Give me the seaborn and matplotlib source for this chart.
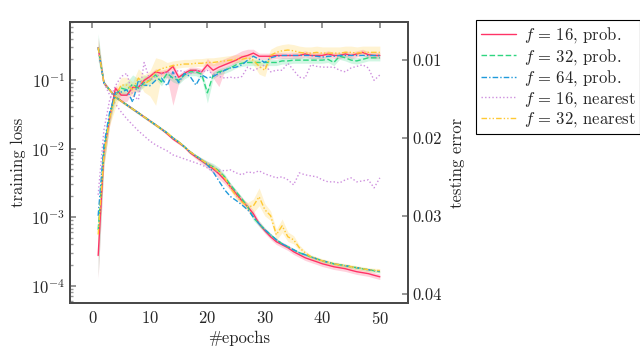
import pandas as pd
import seaborn as sns  # lines are drawn with seaborn
import matplotlib.pyplot as plt
from matplotlib.ticker import FixedLocator, FormatStrFormatter, LogLocator, NullFormatter

# epochs on the x axis
epochs = list(range(1, 51))

# legend labels, one per run
runs = [r'$f\,=\,16$, prob.', r'$f\,=\,32$, prob.', r'$f\,=\,64$, prob.',
        r'$f\,=\,16$, nearest', r'$f\,=\,32$, nearest']

# training loss (left, log axis)
train_f16_prob = [0.297, 0.0904, 0.0715, 0.0565, 0.0494, 0.0432, 0.0378, 0.0331, 0.0289, 0.0253,
                  0.0221, 0.0193, 0.0164, 0.0138, 0.0121, 0.0106, 0.00865, 0.00756, 0.00661, 0.00578,
                  0.00506, 0.00428, 0.00350, 0.00277, 0.00219, 0.00173, 0.00142, 0.00112, 0.000800, 0.000633,
                  0.000517, 0.000438, 0.000396, 0.000358, 0.000313, 0.000283, 0.000256, 0.000239, 0.000224, 0.000209,
                  0.000199, 0.000189, 0.000183, 0.000177, 0.000168, 0.000160, 0.000155, 0.000150, 0.000142, 0.000135]
train_f32_prob = [0.297, 0.0904, 0.0715, 0.0565, 0.0494, 0.0432, 0.0378, 0.0331, 0.0289, 0.0253,
                  0.0221, 0.0193, 0.0169, 0.0143, 0.0125, 0.0106, 0.00894, 0.00782, 0.00684, 0.00598,
                  0.00541, 0.00473, 0.00387, 0.00296, 0.00234, 0.00185, 0.00142, 0.000978, 0.000800, 0.000655,
                  0.000553, 0.000468, 0.000409, 0.000370, 0.000334, 0.000303, 0.000283, 0.000264, 0.000247, 0.000231,
                  0.000220, 0.000209, 0.000202, 0.000196, 0.000189, 0.000183, 0.000177, 0.000171, 0.000166, 0.000160]
train_f64_prob = [0.297, 0.0904, 0.0715, 0.0565, 0.0494, 0.0432, 0.0378, 0.0331, 0.0289, 0.0253,
                  0.0221, 0.0193, 0.0169, 0.0143, 0.0125, 0.0106, 0.00894, 0.00782, 0.00684, 0.00578,
                  0.00457, 0.00338, 0.00250, 0.00200, 0.00175, 0.00151, 0.00128, 0.00101, 0.000800, 0.000655,
                  0.000553, 0.000468, 0.000409, 0.000370, 0.000334, 0.000303, 0.000283, 0.000264, 0.000247, 0.000231,
                  0.000220, 0.000209, 0.000202, 0.000196, 0.000189, 0.000183, 0.000177, 0.000171, 0.000166, 0.000162]
train_f16_near = [0.297, 0.0904, 0.0605, 0.0447, 0.0342, 0.0270, 0.0221, 0.0181, 0.0153, 0.0129,
                  0.0113, 0.0102, 0.00925, 0.00809, 0.00756, 0.00707, 0.00661, 0.00618, 0.00578, 0.00523,
                  0.00457, 0.00489, 0.00473, 0.00489, 0.00442, 0.00414, 0.00457, 0.00442, 0.00473, 0.00428,
                  0.00400, 0.00374, 0.00387, 0.00350, 0.00296, 0.00442, 0.00414, 0.00400, 0.00387, 0.00350,
                  0.00327, 0.00327, 0.00316, 0.00350, 0.00374, 0.00327, 0.00338, 0.00350, 0.00267, 0.00374]
train_f32_near = [0.297, 0.0904, 0.0715, 0.0565, 0.0494, 0.0432, 0.0378, 0.0331, 0.0289, 0.0253,
                  0.0221, 0.0193, 0.0169, 0.0143, 0.0125, 0.0106, 0.00894, 0.00782, 0.00684, 0.00598,
                  0.00530, 0.00457, 0.00374, 0.00267, 0.00205, 0.00167, 0.00142, 0.00146, 0.00198, 0.00128,
                  0.00105, 0.000553, 0.000748, 0.000517, 0.000468, 0.000358, 0.000303, 0.000264, 0.000247, 0.000231,
                  0.000220, 0.000209, 0.000202, 0.000196, 0.000189, 0.000183, 0.000177, 0.000171, 0.000168, 0.000166]

# testing error (right axis, reversed)
test_f16_prob = [0.0351, 0.0218, 0.0174, 0.0136, 0.0145, 0.0145, 0.0135, 0.0135, 0.0126, 0.0121,
                 0.0115, 0.0117, 0.0115, 0.0108, 0.0122, 0.0117, 0.0113, 0.0113, 0.0115, 0.0106,
                 0.0113, 0.0109, 0.0106, 0.0103, 0.0100, 0.0096, 0.0094, 0.0091, 0.0095, 0.0095,
                 0.0095, 0.0094, 0.0094, 0.0094, 0.0094, 0.0094, 0.0092, 0.0094, 0.0094, 0.0094,
                 0.0092, 0.0094, 0.0094, 0.0092, 0.0094, 0.0092, 0.0090, 0.0093, 0.0094, 0.0094]
test_f32_prob = [0.0318, 0.0215, 0.0171, 0.0145, 0.0136, 0.0138, 0.0131, 0.0136, 0.0129, 0.0126,
                 0.0119, 0.0128, 0.0117, 0.0123, 0.0126, 0.0119, 0.0115, 0.0115, 0.0118, 0.0142,
                 0.0119, 0.0115, 0.0113, 0.0110, 0.0106, 0.0104, 0.0103, 0.0103, 0.0103, 0.0103,
                 0.0103, 0.0103, 0.0101, 0.0101, 0.0100, 0.0100, 0.0100, 0.0100, 0.0100, 0.0100,
                 0.0099, 0.0103, 0.0095, 0.0097, 0.0100, 0.0101, 0.0099, 0.0097, 0.0097, 0.0097]
test_f64_prob = [0.0300, 0.0209, 0.0167, 0.0142, 0.0141, 0.0138, 0.0154, 0.0126, 0.0132, 0.0133,
                 0.0126, 0.0123, 0.0133, 0.0115, 0.0129, 0.0117, 0.0121, 0.0132, 0.0119, 0.0123,
                 0.0121, 0.0117, 0.0113, 0.0110, 0.0109, 0.0106, 0.0100, 0.0095, 0.0099, 0.0103,
                 0.0097, 0.0095, 0.0094, 0.0094, 0.0094, 0.0094, 0.0094, 0.0094, 0.0095, 0.0096,
                 0.0095, 0.0095, 0.0094, 0.0094, 0.0094, 0.0094, 0.0094, 0.0094, 0.0094, 0.0094]
test_f16_near = [0.0273, 0.0190, 0.0151, 0.0133, 0.0121, 0.0117, 0.0145, 0.0151, 0.0103, 0.0126,
                 0.0121, 0.0118, 0.0115, 0.0118, 0.0113, 0.0115, 0.0118, 0.0113, 0.0115, 0.0113,
                 0.0118, 0.0121, 0.0123, 0.0122, 0.0123, 0.0121, 0.0109, 0.0113, 0.0110, 0.0106,
                 0.0115, 0.0113, 0.0113, 0.0104, 0.0113, 0.0122, 0.0123, 0.0106, 0.0108, 0.0109,
                 0.0109, 0.0109, 0.0113, 0.0115, 0.0110, 0.0108, 0.0106, 0.0110, 0.0126, 0.0119]
test_f32_near = [0.0324, 0.0222, 0.0174, 0.0146, 0.0132, 0.0132, 0.0138, 0.0123, 0.0131, 0.0126,
                 0.0115, 0.0111, 0.0109, 0.0107, 0.0106, 0.0105, 0.0105, 0.0104, 0.0104, 0.0103,
                 0.0103, 0.0102, 0.0101, 0.0100, 0.0099, 0.0099, 0.0097, 0.0100, 0.0108, 0.0113,
                 0.0094, 0.0090, 0.0088, 0.0087, 0.0088, 0.0090, 0.0091, 0.0091, 0.0090, 0.0091,
                 0.0091, 0.0091, 0.0091, 0.0090, 0.0090, 0.0091, 0.0090, 0.0090, 0.0090, 0.0090]

# spread of the runs: training loss in decades (both ways)
train_spread_f16_prob = [0.15, 0.03, 0.02, 0.02, 0.02, 0.02, 0.02, 0.02, 0.02, 0.02,
                         0.02, 0.02, 0.02, 0.02, 0.02, 0.02, 0.02, 0.03, 0.04, 0.05,
                         0.06, 0.07, 0.06, 0.05, 0.05, 0.05, 0.05, 0.05, 0.04, 0.04,
                         0.04, 0.04, 0.04, 0.04, 0.04, 0.04, 0.04, 0.04, 0.04, 0.04,
                         0.04, 0.04, 0.04, 0.04, 0.04, 0.04, 0.04, 0.04, 0.04, 0.04]
train_spread_f32_prob = [0.20, 0.03, 0.02, 0.02, 0.02, 0.02, 0.02, 0.02, 0.02, 0.02,
                         0.02, 0.02, 0.02, 0.02, 0.02, 0.02, 0.02, 0.02, 0.03, 0.04,
                         0.05, 0.05, 0.04, 0.03, 0.03, 0.03, 0.03, 0.04, 0.04, 0.03,
                         0.02, 0.02, 0.02, 0.02, 0.02, 0.02, 0.02, 0.02, 0.02, 0.02,
                         0.02, 0.02, 0.02, 0.02, 0.02, 0.02, 0.02, 0.02, 0.02, 0.02]
train_spread_f32_near = [0.10, 0.03, 0.02, 0.02, 0.02, 0.02, 0.02, 0.02, 0.02, 0.02,
                         0.02, 0.02, 0.02, 0.02, 0.02, 0.02, 0.02, 0.02, 0.02, 0.02,
                         0.02, 0.03, 0.03, 0.04, 0.05, 0.05, 0.06, 0.10, 0.13, 0.09,
                         0.07, 0.08, 0.10, 0.07, 0.06, 0.04, 0.03, 0.03, 0.03, 0.03,
                         0.03, 0.03, 0.03, 0.03, 0.03, 0.03, 0.03, 0.03, 0.03, 0.03]

# spread of the runs: testing error, toward higher error (down) and lower error (up)
test_down_f16_prob = [0.0030, 0.0015, 0.0010, 0.0008, 0.0008, 0.0008, 0.0006, 0.0006, 0.0004, 0.0004,
                      0.0004, 0.0004, 0.0008, 0.0050, 0.0008, 0.0004, 0.0004, 0.0004, 0.0004, 0.0004,
                      0.0010, 0.0025, 0.0008, 0.0004, 0.0004, 0.0004, 0.0004, 0.0004, 0.0004, 0.0004,
                      0.0004, 0.0004, 0.0004, 0.0004, 0.0004, 0.0004, 0.0004, 0.0004, 0.0004, 0.0004,
                      0.0004, 0.0004, 0.0004, 0.0004, 0.0004, 0.0004, 0.0004, 0.0004, 0.0004, 0.0004]
test_up_f16_prob = [0.0010, 0.0008, 0.0006, 0.0004, 0.0004, 0.0004, 0.0004, 0.0004, 0.0004, 0.0004,
                    0.0004, 0.0004, 0.0004, 0.0004, 0.0004, 0.0004, 0.0004, 0.0004, 0.0004, 0.0008,
                    0.0008, 0.0008, 0.0008, 0.0008, 0.0008, 0.0008, 0.0008, 0.0005, 0.0004, 0.0004,
                    0.0004, 0.0004, 0.0004, 0.0004, 0.0004, 0.0004, 0.0004, 0.0004, 0.0004, 0.0004,
                    0.0004, 0.0004, 0.0004, 0.0004, 0.0004, 0.0004, 0.0004, 0.0004, 0.0004, 0.0004]
test_down_f32_prob = [0.0060, 0.0020, 0.0010, 0.0008, 0.0008, 0.0008, 0.0005, 0.0005, 0.0005, 0.0005,
                      0.0005, 0.0005, 0.0005, 0.0005, 0.0005, 0.0005, 0.0005, 0.0005, 0.0006, 0.0013,
                      0.0005, 0.0004, 0.0004, 0.0004, 0.0004, 0.0004, 0.0004, 0.0004, 0.0004, 0.0004,
                      0.0004, 0.0004, 0.0004, 0.0004, 0.0004, 0.0004, 0.0004, 0.0004, 0.0004, 0.0004,
                      0.0004, 0.0004, 0.0004, 0.0004, 0.0004, 0.0004, 0.0004, 0.0004, 0.0004, 0.0004]
test_up_f32_prob = [0.0010, 0.0008, 0.0006, 0.0004, 0.0004, 0.0010, 0.0012, 0.0012, 0.0010, 0.0004,
                    0.0004, 0.0004, 0.0004, 0.0004, 0.0004, 0.0004, 0.0004, 0.0004, 0.0004, 0.0004,
                    0.0004, 0.0004, 0.0004, 0.0004, 0.0004, 0.0004, 0.0004, 0.0004, 0.0004, 0.0004,
                    0.0004, 0.0004, 0.0004, 0.0004, 0.0004, 0.0004, 0.0004, 0.0004, 0.0004, 0.0004,
                    0.0004, 0.0004, 0.0004, 0.0004, 0.0004, 0.0004, 0.0004, 0.0004, 0.0004, 0.0004]
test_down_f32_near = [0.0020, 0.0015, 0.0010, 0.0015, 0.0012, 0.0008, 0.0010, 0.0006, 0.0010, 0.0020,
                      0.0043, 0.0010, 0.0005, 0.0004, 0.0004, 0.0004, 0.0004, 0.0004, 0.0004, 0.0004,
                      0.0004, 0.0004, 0.0004, 0.0004, 0.0004, 0.0004, 0.0004, 0.0006, 0.0010, 0.0008,
                      0.0003, 0.0003, 0.0003, 0.0003, 0.0003, 0.0003, 0.0003, 0.0003, 0.0003, 0.0003,
                      0.0003, 0.0003, 0.0003, 0.0003, 0.0003, 0.0003, 0.0003, 0.0003, 0.0003, 0.0003]
test_up_f32_near = [0.0010, 0.0008, 0.0006, 0.0010, 0.0010, 0.0010, 0.0010, 0.0012, 0.0012, 0.0012,
                    0.0018, 0.0012, 0.0006, 0.0006, 0.0006, 0.0006, 0.0006, 0.0006, 0.0006, 0.0006,
                    0.0006, 0.0006, 0.0006, 0.0006, 0.0006, 0.0006, 0.0005, 0.0007, 0.0007, 0.0007,
                    0.0008, 0.0008, 0.0008, 0.0008, 0.0008, 0.0008, 0.0008, 0.0008, 0.0008, 0.0008,
                    0.0008, 0.0008, 0.0008, 0.0008, 0.0008, 0.0008, 0.0008, 0.0008, 0.0008, 0.0008]

colors = ['#FF3366', '#2FD680', '#1F9ADB', '#CE8FDE', '#FFC933']
dash_styles = ['', (4, 1.8), (4, 1.5, 1, 1.5), (1, 1.6), (4, 1.5, 1, 1.5, 1, 1.5)]

sns.set_theme(style='white')
plt.rcParams['font.family'] = 'serif'
plt.rcParams['font.serif'] = ['cmr10', 'DejaVu Serif']
plt.rcParams['mathtext.fontset'] = 'cm'
plt.rcParams['axes.unicode_minus'] = False
plt.rcParams['axes.formatter.use_mathtext'] = True


def long_form(series):
    return pd.concat([pd.DataFrame({'epoch': epochs, 'value': s, 'run': r})
                      for s, r in zip(series, runs)], ignore_index=True)


train_df = long_form([train_f16_prob, train_f32_prob, train_f64_prob, train_f16_near, train_f32_near])
test_df = long_form([test_f16_prob, test_f32_prob, test_f64_prob, test_f16_near, test_f32_near])
palette = dict(zip(runs, colors))
dashes = dict(zip(runs, dash_styles))

fig = plt.figure(figsize=(6.4, 3.48), dpi=100)
ax = fig.add_axes([70 / 640, 1 - 303 / 348, 338 / 640, 281 / 348])
ax2 = ax.twinx()

# shaded spread of the runs
for vals, spread, c in [(train_f16_prob, train_spread_f16_prob, colors[0]),
                        (train_f32_prob, train_spread_f32_prob, colors[1]),
                        (train_f32_near, train_spread_f32_near, colors[4])]:
    lo = [v / 10 ** s for v, s in zip(vals, spread)]
    hi = [v * 10 ** s for v, s in zip(vals, spread)]
    ax.fill_between(epochs, lo, hi, color=c, alpha=0.22, lw=0)
for vals, down, up, c in [(test_f16_prob, test_down_f16_prob, test_up_f16_prob, colors[0]),
                          (test_f32_prob, test_down_f32_prob, test_up_f32_prob, colors[1]),
                          (test_f32_near, test_down_f32_near, test_up_f32_near, colors[4])]:
    lo = [v - u for v, u in zip(vals, up)]
    hi = [v + d for v, d in zip(vals, down)]
    ax2.fill_between(epochs, lo, hi, color=c, alpha=0.22, lw=0)

sns.lineplot(data=train_df, x='epoch', y='value', hue='run', style='run', palette=palette,
             dashes=dashes, errorbar=None, lw=1.0, ax=ax)
sns.lineplot(data=test_df, x='epoch', y='value', hue='run', style='run', palette=palette,
             dashes=dashes, errorbar=None, lw=1.0, ax=ax2, legend=False)

ax.set_yscale('log')
ax.set_xlim(-3.9, 54.9)
ax.set_ylim(5.6e-5, 0.70)
ax2.set_ylim(0.0412, 0.0051)

ax.set_xticks([0, 10, 20, 30, 40, 50])
ax.yaxis.set_major_locator(LogLocator(base=10, numticks=10))
ax.yaxis.set_minor_locator(LogLocator(base=10, subs=range(2, 10), numticks=10))
ax.yaxis.set_minor_formatter(NullFormatter())
ax2.yaxis.set_major_locator(FixedLocator([0.01, 0.02, 0.03, 0.04]))
ax2.yaxis.set_major_formatter(FormatStrFormatter('%.2f'))

ax.set_xlabel('#epochs', fontsize=12, labelpad=3)
ax.set_ylabel('training loss', fontsize=12, labelpad=4)
ax2.set_ylabel('testing error', fontsize=12, labelpad=5)

frame = '#4a4a4a'
for a in (ax, ax2):
    for sp in a.spines.values():
        sp.set_color(frame)
        sp.set_linewidth(1.4)
ax.tick_params(axis='x', which='major', direction='in', top=True, length=4, color='#888888',
               labelsize=12, pad=5)
ax.tick_params(axis='y', which='major', direction='in', length=4, color='#888888', labelsize=12)
ax.tick_params(axis='y', which='minor', direction='in', length=2, color='#999999')
ax2.tick_params(axis='y', direction='in', length=4, color='#888888', labelsize=12)

sns.move_legend(ax, 'upper left', bbox_to_anchor=(476 / 640, 1 - 20 / 348),
                bbox_transform=fig.transFigure, title=None, frameon=True, fancybox=False,
                edgecolor='black', framealpha=1, fontsize=12, borderaxespad=0,
                handlelength=2.1, handletextpad=0.45, labelspacing=0.1, borderpad=0.3)
ax.get_legend().get_frame().set_linewidth(0.8)

fig.savefig('out.png', dpi=100)
